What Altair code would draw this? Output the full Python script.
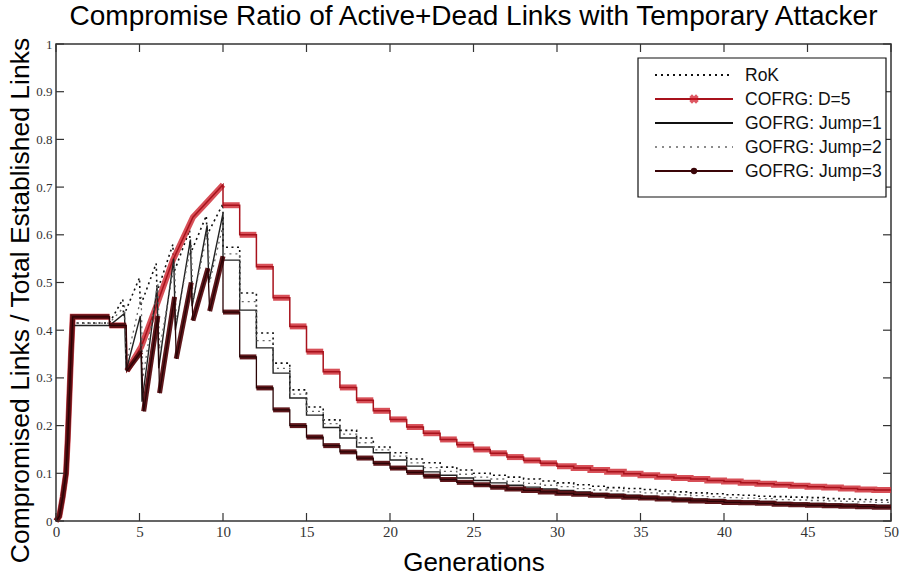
import altair as alt
import pandas as pd

SERIES = ["RoK", "COFRG: D=5", "GOFRG: Jump=1", "GOFRG: Jump=2", "GOFRG: Jump=3"]

# ---- early phase (generations 0-10): breakpoints ----
rok_x = [0, 0.2, 0.4, 0.6, 0.7, 0.8, 0.9, 1.0, 3.2, 4.0, 4.05, 5.0, 5.05, 6.0, 6.05, 7.0, 7.05, 8.0, 8.05, 9.0, 9.05, 10.0]
rok_y = [0, 0.01, 0.05, 0.10, 0.17, 0.26, 0.35, 0.415, 0.415, 0.465, 0.43, 0.51, 0.45, 0.54, 0.48, 0.58, 0.52, 0.61, 0.56, 0.64, 0.60, 0.665]

cofrg_x = [0, 0.2, 0.4, 0.6, 0.7, 0.8, 0.9, 1.0, 3.2, 3.2, 4.2, 4.25, 5.1, 6.0, 7.0, 8.2, 9.0, 10.0]
cofrg_y = [0, 0.01, 0.05, 0.10, 0.17, 0.26, 0.35, 0.428, 0.428, 0.41, 0.41, 0.315, 0.365, 0.45, 0.547, 0.637, 0.667, 0.705]

j1_x = [0, 0.2, 0.4, 0.6, 0.7, 0.8, 0.9, 1.0, 3.2, 4.1, 4.2, 5.05, 5.15, 6.05, 6.15, 7.05, 7.15, 8.05, 8.15, 9.05, 9.15, 10.0]
j1_y = [0, 0.01, 0.05, 0.10, 0.17, 0.26, 0.35, 0.41, 0.41, 0.435, 0.315, 0.43, 0.25, 0.49, 0.32, 0.55, 0.40, 0.59, 0.45, 0.62, 0.50, 0.645]

j2_x = [0, 0.2, 0.4, 0.6, 0.7, 0.8, 0.9, 1.0, 3.2, 4.1, 4.2, 5.1, 5.2, 6.1, 6.2, 7.1, 7.2, 8.1, 8.2, 9.1, 9.2, 10.0]
j2_y = [0, 0.01, 0.05, 0.10, 0.17, 0.26, 0.35, 0.415, 0.415, 0.45, 0.33, 0.47, 0.30, 0.50, 0.36, 0.54, 0.42, 0.58, 0.46, 0.61, 0.50, 0.62]

j3_x = [0, 0.2, 0.4, 0.6, 0.7, 0.8, 0.9, 1.0, 3.2, 3.2, 4.2, 4.25, 5.1, 5.25, 6.1, 6.2, 7.1, 7.2, 8.1, 8.2, 9.1, 9.2, 10.0]
j3_y = [0, 0.01, 0.05, 0.10, 0.17, 0.26, 0.35, 0.428, 0.428, 0.41, 0.41, 0.315, 0.355, 0.23, 0.43, 0.268, 0.47, 0.34, 0.50, 0.42, 0.53, 0.44, 0.555]

# ---- per-generation step levels, generations 10..49 ----
tail_gens = list(range(10, 50))
rok_tail = [0.574, 0.478, 0.394, 0.331, 0.275, 0.239, 0.212, 0.190, 0.174, 0.155,
            0.143, 0.130, 0.122, 0.113, 0.107, 0.100, 0.096, 0.092, 0.088, 0.084,
            0.080, 0.076, 0.073, 0.070, 0.068, 0.066, 0.063, 0.061, 0.059, 0.057,
            0.055, 0.054, 0.052, 0.051, 0.050, 0.049, 0.047, 0.046, 0.045, 0.044]
cofrg_tail = [0.662, 0.600, 0.533, 0.468, 0.408, 0.355, 0.313, 0.280, 0.253, 0.231,
              0.213, 0.197, 0.184, 0.171, 0.160, 0.150, 0.142, 0.134, 0.127, 0.121,
              0.115, 0.111, 0.107, 0.103, 0.099, 0.096, 0.093, 0.090, 0.088, 0.085,
              0.083, 0.080, 0.078, 0.076, 0.074, 0.072, 0.070, 0.068, 0.066, 0.065]
j1_tail = [0.547, 0.442, 0.363, 0.310, 0.258, 0.222, 0.196, 0.174, 0.155, 0.143,
           0.128, 0.115, 0.103, 0.096, 0.090, 0.085, 0.080, 0.075, 0.071, 0.067,
           0.064, 0.061, 0.058, 0.056, 0.054, 0.052, 0.050, 0.048, 0.046, 0.045,
           0.043, 0.042, 0.041, 0.039, 0.038, 0.037, 0.036, 0.035, 0.034, 0.033]
j2_tail = [0.560, 0.460, 0.378, 0.320, 0.266, 0.230, 0.204, 0.182, 0.164, 0.149,
           0.136, 0.122, 0.112, 0.104, 0.098, 0.092, 0.088, 0.083, 0.079, 0.075,
           0.072, 0.068, 0.065, 0.063, 0.061, 0.059, 0.057, 0.055, 0.053, 0.051,
           0.049, 0.048, 0.047, 0.045, 0.044, 0.043, 0.042, 0.041, 0.040, 0.039]
j3_tail = [0.438, 0.344, 0.279, 0.233, 0.200, 0.176, 0.158, 0.145, 0.132, 0.121,
           0.111, 0.102, 0.094, 0.087, 0.081, 0.076, 0.071, 0.067, 0.064, 0.061,
           0.058, 0.056, 0.054, 0.052, 0.050, 0.048, 0.046, 0.044, 0.042, 0.041,
           0.039, 0.038, 0.037, 0.035, 0.034, 0.033, 0.032, 0.031, 0.030, 0.029]

X_TICKS = list(range(0, 51, 5))
Y_TICKS = [0, 0.1, 0.2, 0.3, 0.4, 0.5, 0.6, 0.7, 0.8, 0.9, 1.0]

W, H = 835, 477


def build(name, ex, ey, tail):
    pts = list(zip(ex, ey))
    for g, v in zip(tail_gens, tail):
        pts.append((g, v))
        pts.append((g + 1, v))
    rows, seg, prev = [], 0, None
    for i, (x, y) in enumerate(pts):
        if prev is not None and y < prev[1] - 0.004 and x - prev[0] < 0.2:
            seg += 1
        rows.append({"series": name, "gen": x, "ratio": y, "idx": i, "seg": f"{name}-{seg}"})
        prev = (x, y)
    return rows


rows = []
rows += build(SERIES[0], rok_x, rok_y, rok_tail)
rows += build(SERIES[1], cofrg_x, cofrg_y, cofrg_tail)
rows += build(SERIES[2], j1_x, j1_y, j1_tail)
rows += build(SERIES[3], j2_x, j2_y, j2_tail)
rows += build(SERIES[4], j3_x, j3_y, j3_tail)
df = pd.DataFrame(rows)

xscale = alt.Scale(domain=[0, 50], nice=False, zero=False)
yscale = alt.Scale(domain=[0, 1], nice=False, zero=False)

x_axis = alt.Axis(
    values=X_TICKS, title="Generations", ticks=False, tickSize=0, domain=False, grid=False,
    labelFlush=False, labelOverlap=False, labelPadding=3, labelFontSize=15,
    titleFontSize=26, titleY=49, titleBaseline="alphabetic")
y_axis = alt.Axis(
    values=Y_TICKS, format=".1~f", title="Compromised Links / Total Established Links",
    ticks=False, tickSize=0, domain=False, grid=False, labelFlush=False, labelOverlap=False,
    labelPadding=4, labelFontSize=13, titleFontSize=26.5, titleAngle=270, titleX=-28,
    titleY=256, titleAlign="center", titleBaseline="alphabetic")
x_enc = alt.X("gen:Q", scale=xscale, axis=x_axis)
y_enc = alt.Y("ratio:Q", scale=yscale, axis=y_axis)

base = alt.Chart(df)


def series_line(name, color, width, dash=None, detail="series:N", opacity=1.0):
    kw = dict(color=color, strokeWidth=width, opacity=opacity)
    if dash:
        kw["strokeDash"] = dash
    return base.transform_filter(alt.datum.series == name).mark_line(**kw).encode(
        x=x_enc, y=y_enc, order="idx:Q", detail=detail)


layers = [
    series_line(SERIES[0], "#111111", 1.6, dash=[2, 3.5]),
    series_line(SERIES[1], "#d0303a", 6, detail="seg:N", opacity=0.85),
    series_line(SERIES[1], "#a8121c", 1.5),
    series_line(SERIES[2], "#222222", 1.4),
    series_line(SERIES[3], "#666666", 1.3, dash=[2, 4]),
    series_line(SERIES[4], "#560c10", 5, detail="seg:N", opacity=0.95),
    series_line(SERIES[4], "#2a0305", 1.3),
]

# inner tick marks (MATLAB style box), same fields/axes as the data layers
xt = alt.Chart(pd.DataFrame({"gen": X_TICKS}))
yt = alt.Chart(pd.DataFrame({"ratio": Y_TICKS}))
tick_style = dict(color="#333333", strokeWidth=1.2)
layers += [
    xt.mark_rule(**tick_style).encode(x=x_enc, y=alt.value(H), y2=alt.value(H - 8)),
    xt.mark_rule(**tick_style).encode(x=x_enc, y=alt.value(0), y2=alt.value(8)),
    yt.mark_rule(**tick_style).encode(y=y_enc, x=alt.value(0), x2=alt.value(8)),
    yt.mark_rule(**tick_style).encode(y=y_enc, x=alt.value(W), x2=alt.value(W - 8)),
]

# legend box
one = pd.DataFrame({"k": [0]})
layers.append(alt.Chart(one).mark_rect(fill="white", stroke="#111111", strokeWidth=1.2).encode(
    x=alt.value(582), x2=alt.value(830), y=alt.value(14), y2=alt.value(153)))

leg_y = [31, 55, 79, 103, 127]
leg_style = [
    dict(color="#111111", strokeWidth=1.8, strokeDash=[2, 4]),
    dict(color="#a8121c", strokeWidth=2),
    dict(color="#111111", strokeWidth=2),
    dict(color="#666666", strokeWidth=1.5, strokeDash=[2, 5]),
    dict(color="#3a0508", strokeWidth=2),
]
for name, ly, st in zip(SERIES, leg_y, leg_style):
    d = alt.Chart(pd.DataFrame({"label": [name]}))
    layers.append(d.mark_rule(**st).encode(x=alt.value(599), x2=alt.value(677), y=alt.value(ly)))
    if name == SERIES[1]:
        layers.append(d.mark_point(shape="cross", angle=45, size=90, filled=True, color="#d01020").encode(
            x=alt.value(638), y=alt.value(ly)))
    if name == SERIES[4]:
        layers.append(d.mark_point(shape="circle", size=40, filled=True, color="#3a0508", opacity=1).encode(
            x=alt.value(638), y=alt.value(ly)))
    layers.append(d.mark_text(align="left", baseline="middle", fontSize=17.5, font="Liberation Sans",
                              color="#111111").encode(
        x=alt.value(689), y=alt.value(ly + 1), text="label:N"))

chart = alt.layer(*layers).properties(
    width=W, height=H,
    title="Compromise Ratio of Active+Dead Links with Temporary Attacker",
    autosize=alt.AutoSizeParams(type="none"),
    padding={"left": 56, "top": 44, "right": 10, "bottom": 58},
    background="white",
).configure_view(stroke="#333333", strokeWidth=1.5).configure_axis(
    labelFont="Liberation Sans Narrow", labelColor="#333333", titleFont="Liberation Sans",
    titleFontWeight="normal", titleColor="#000000"
).configure_title(font="Liberation Sans", fontSize=28, fontWeight="normal", anchor="middle",
                  offset=6, color="#000000")

chart.save("out.html", embed_options={"renderer": "svg", "actions": False})
